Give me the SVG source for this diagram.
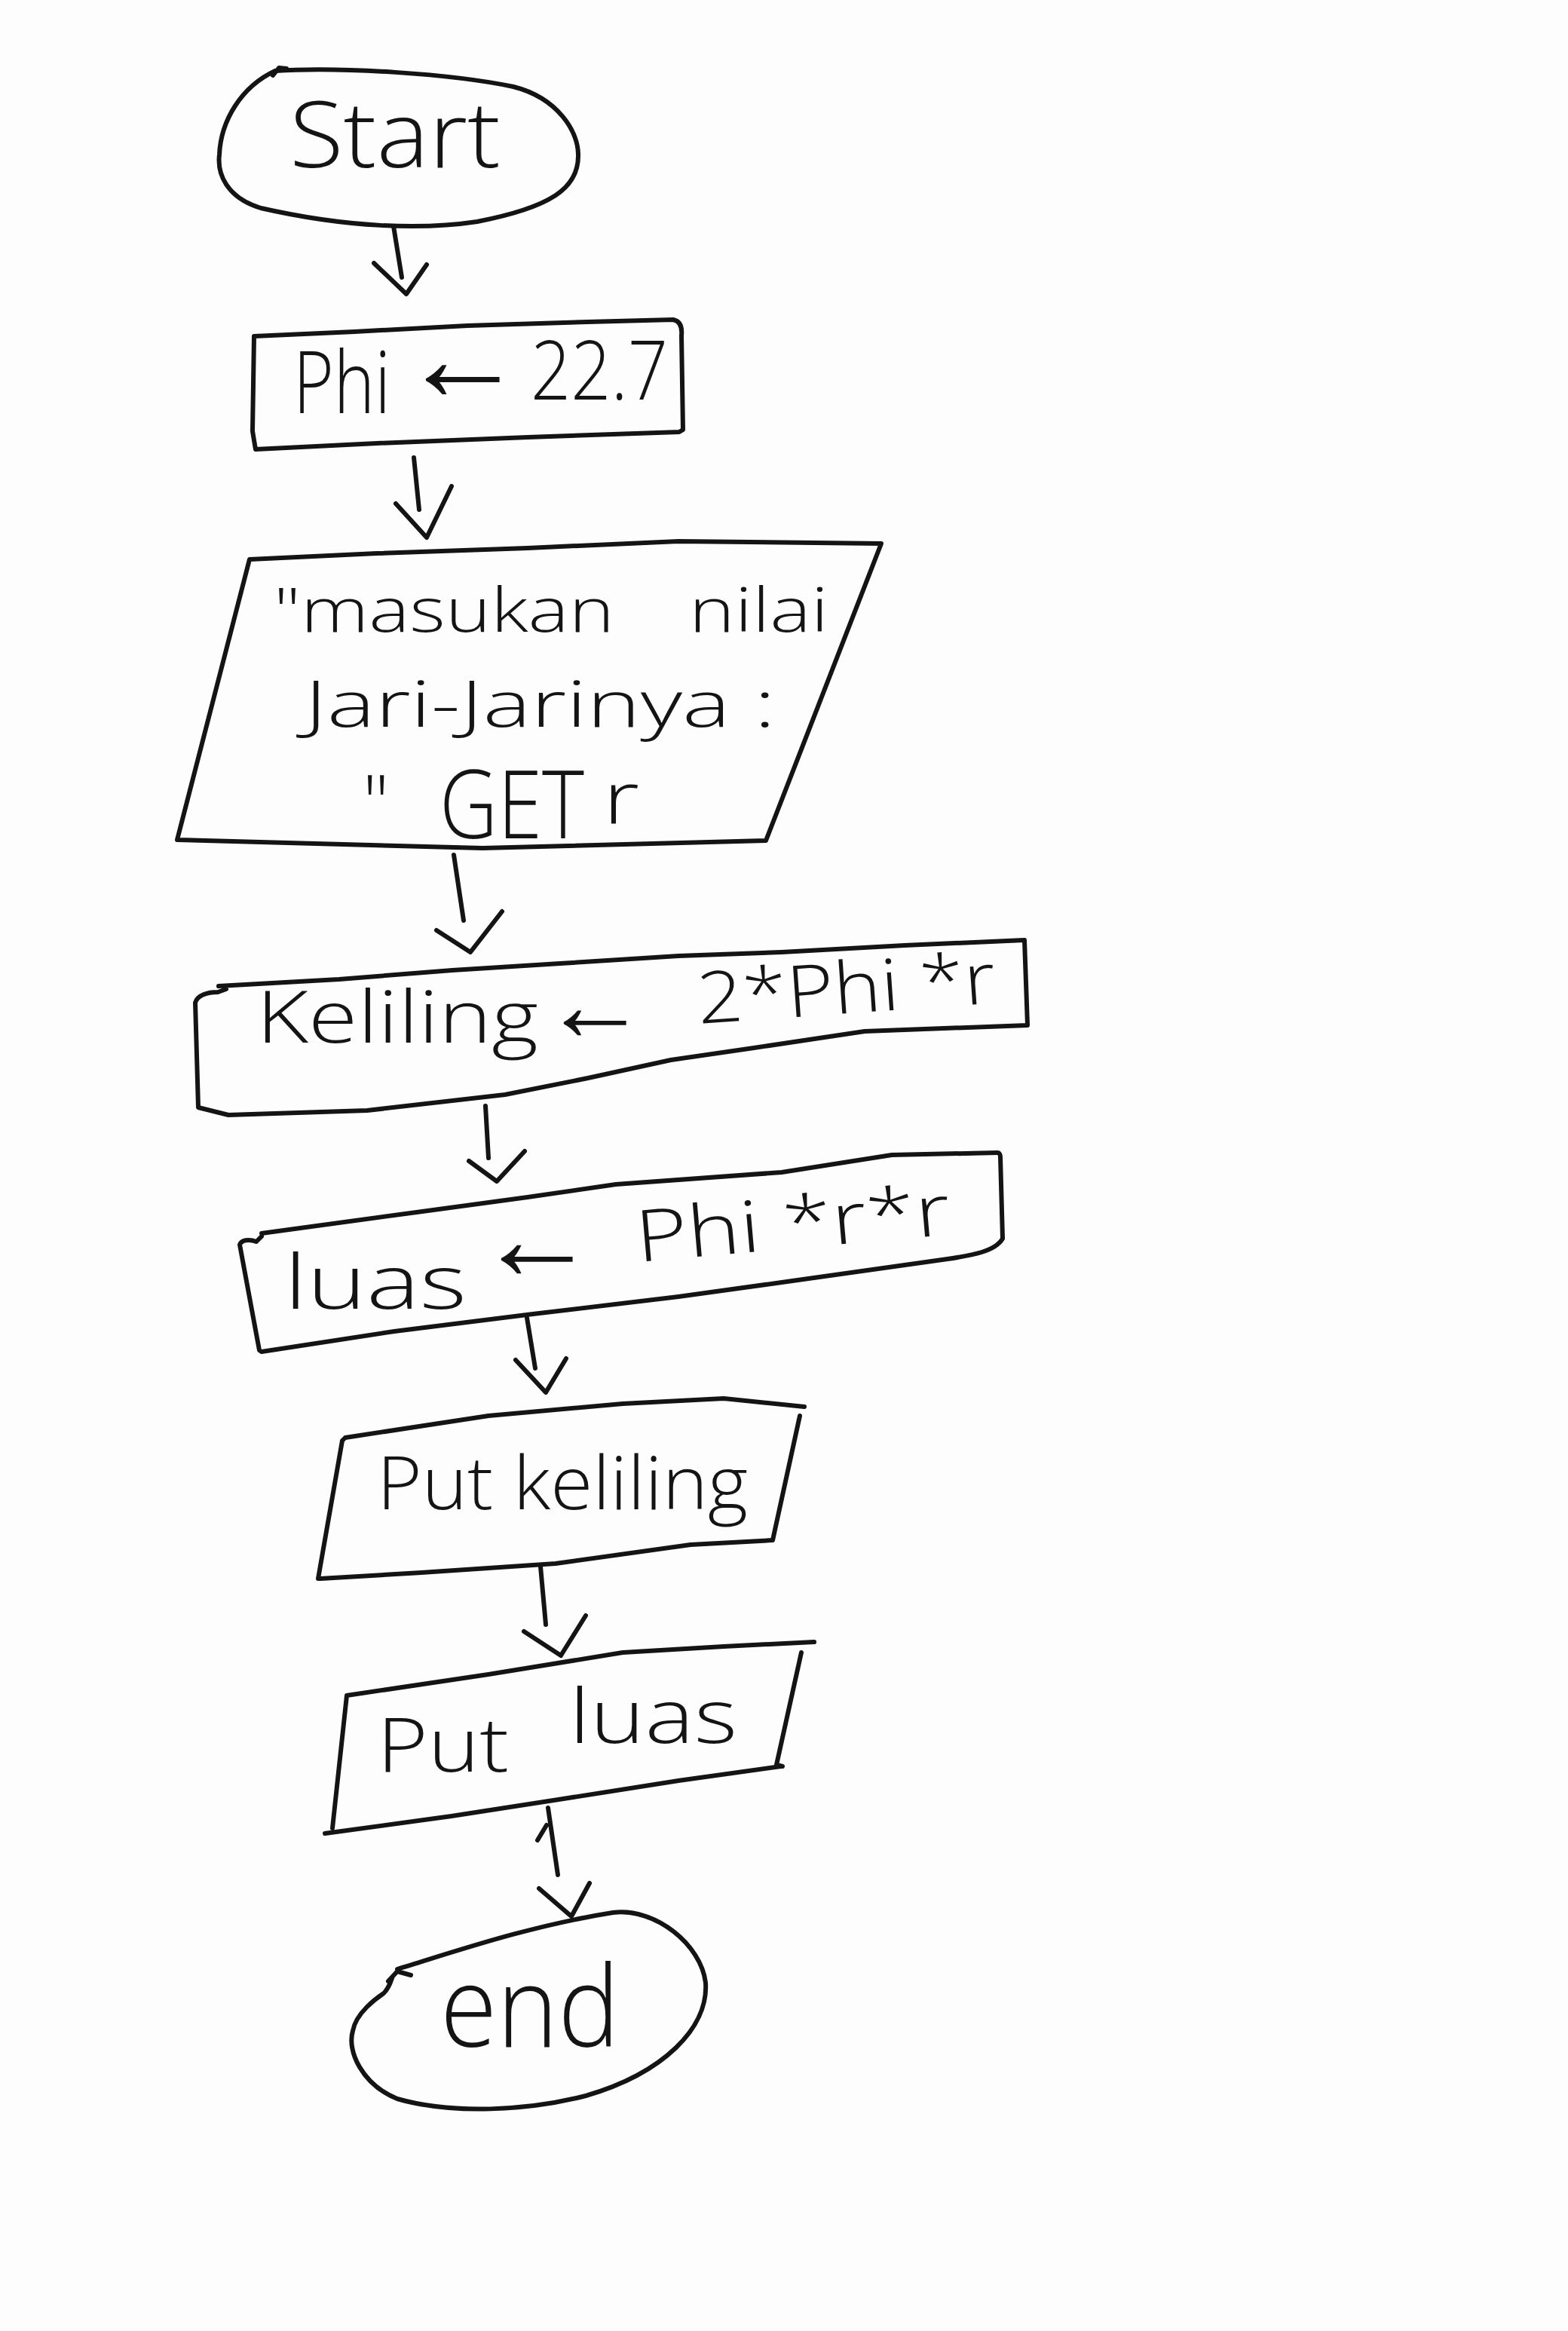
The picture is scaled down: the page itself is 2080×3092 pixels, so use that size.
<svg xmlns="http://www.w3.org/2000/svg" width="2080" height="3092" viewBox="0 0 2080 3092">
<style>
.ln{fill:none;stroke:#141414;stroke-width:6;stroke-linecap:round;stroke-linejoin:round}
.tx{font-family:"Open Sans","Liberation Sans","DejaVu Sans",sans-serif;font-weight:300;fill:#141414}
.ar{font-family:"Liberation Sans","DejaVu Sans",sans-serif;fill:#141414}
</style>
<rect x="0" y="0" width="2080" height="3092" fill="#fdfdfd"/>
<g id="start">
<path class="ln" d="M365,94 C450,88 600,98 681,115 C740,130 768,175 767,207 C767,250 730,275 633,294 C560,305 460,302 346,276 C300,262 288,230 291,205 C293,160 320,115 365,94 Z"/>
<path class="ln" d="M362,100 L370,90 L380,91"/>
<text class="tx" x="384" y="222" font-size="122" textLength="280" lengthAdjust="spacingAndGlyphs">Start</text>
</g>
<g id="phi">
<path class="ln" d="M337,446 L470,440 L620,432 L780,427 L893,424 C903,426 905,435 904,445 L906,570 L901,573 L700,580 L500,588 L339,596 L335,572 L337,446 Z"/>
<text class="tx" x="0" y="0" font-size="115" textLength="164" lengthAdjust="spacingAndGlyphs" transform="translate(389,548) scale(0.787,1)">Phi</text>
<text class="ar" x="531" y="531" font-size="165">←</text>
<text class="tx" x="704" y="530" font-size="108" textLength="182" lengthAdjust="spacingAndGlyphs">22.7</text>
</g>
<g id="input">
<path class="ln" d="M331,742 L500,734 L700,727 L900,718 L1169,721 L1016,1115 L640,1125 L235,1114 Z"/>
<text class="tx" x="363" y="838" font-size="82" textLength="452" lengthAdjust="spacingAndGlyphs">"masukan</text>
<text class="tx" x="914" y="838" font-size="82" textLength="185" lengthAdjust="spacingAndGlyphs">nilai</text>
<text class="tx" x="404" y="964" font-size="85" textLength="625" lengthAdjust="spacingAndGlyphs">Jari-Jarinya :</text>
<text class="tx" x="481" y="1100" font-size="100">"</text>
<text class="tx" x="0" y="0" font-size="125" textLength="218" lengthAdjust="spacingAndGlyphs" transform="translate(583,1112) scale(0.881,1)">GET</text>
<text class="tx" x="800" y="1093" font-size="95" textLength="48" lengthAdjust="spacingAndGlyphs">r</text>
</g>
<g id="keliling">
<path class="ln" d="M290,1308 L450,1299 L600,1287 L743,1278 L900,1268 L1037,1263 L1200,1254 L1359,1247 L1363,1360 L1147,1368 L1000,1390 L890,1406 L780,1430 L670,1452 L487,1473 L303,1479 L263,1469 L259,1330 C262,1320 275,1316 289,1316 L300,1312"/>
<text class="tx" x="340" y="1383" font-size="95" textLength="374" lengthAdjust="spacingAndGlyphs">Keliling</text>
<text class="ar" x="719" y="1380" font-size="140">←</text>
<text class="tx" x="927" y="1358" font-size="95" textLength="396" lengthAdjust="spacingAndGlyphs" transform="rotate(-4 927 1358)">2*Phi *r</text>
</g>
<g id="luas">
<path class="ln" d="M347,1636 L560,1607 L700,1588 L817,1571 L1037,1555 L1183,1532 L1323,1529 C1326,1529 1327,1532 1327,1535 L1330,1643 C1320,1660 1290,1665 1257,1670 L1037,1701 L900,1720 L707,1743 L523,1766 L347,1793 L344,1791 L318,1651 C320,1645 330,1643 340,1647 L347,1640"/>
<text class="tx" x="377" y="1736" font-size="100" textLength="242" lengthAdjust="spacingAndGlyphs">luas</text>
<text class="ar" x="632" y="1697" font-size="160">←</text>
<text class="tx" x="846" y="1674" font-size="95" textLength="418" lengthAdjust="spacingAndGlyphs" transform="rotate(-5 846 1674)">Phi *r*r</text>
</g>
<g id="put-keliling">
<path class="ln" d="M454,1911 L458,1907 L648,1878 L826,1862 L960,1855 L1067,1866 M1061,1878 L1025,2043 L916,2049 L737,2074 L559,2086 L425,2094 L422,2094 L454,1911"/>
<text class="tx" x="500" y="2002" font-size="98" textLength="492" lengthAdjust="spacingAndGlyphs">Put keliling</text>
</g>
<g id="put-luas">
<path class="ln" d="M460,2249 L648,2221 L826,2192 L960,2184 L1080,2178 M1063,2192 L1030,2341 L1038,2343 M1036,2343 L900,2362 L741,2387 L599,2409 L431,2432 M441,2425 L460,2249"/>
<text class="tx" x="500" y="2350" font-size="100" textLength="175" lengthAdjust="spacingAndGlyphs">Put</text>
<text class="tx" x="755" y="2312" font-size="100" textLength="223" lengthAdjust="spacingAndGlyphs">luas</text>
</g>
<g id="end">
<path class="ln" d="M527,2612 C600,2590 700,2555 813,2537 C870,2530 930,2580 936,2630 C940,2690 880,2750 777,2780 C700,2800 600,2805 527,2784 C480,2765 460,2720 468,2694 C472,2670 500,2650 509,2644 C515,2638 518,2630 520,2624"/>
<path class="ln" d="M515,2628 L527,2615 L545,2620"/>
<text class="tx" x="584" y="2715" font-size="150" textLength="238" lengthAdjust="spacingAndGlyphs">end</text>
</g>
<g id="connectors">
<path class="ln" d="M522,300 L533,368 M496,349 L539,390 L566,351"/>
<path class="ln" d="M549,607 L556,676 M525,668 L566,713 L599,645"/>
<path class="ln" d="M602,1134 L615,1221 M579,1234 L624,1263 L666,1209"/>
<path class="ln" d="M644,1467 L648,1536 M622,1540 L659,1567 L696,1527"/>
<path class="ln" d="M699,1748 L710,1815 M684,1804 L724,1847 L751,1802"/>
<path class="ln" d="M717,2078 L724,2155 M695,2164 L744,2196 L777,2143"/>
<path class="ln" d="M727,2398 L740,2487 M713,2441 L725,2421 M715,2505 L758,2542 L782,2498"/>
</g>
</svg>
